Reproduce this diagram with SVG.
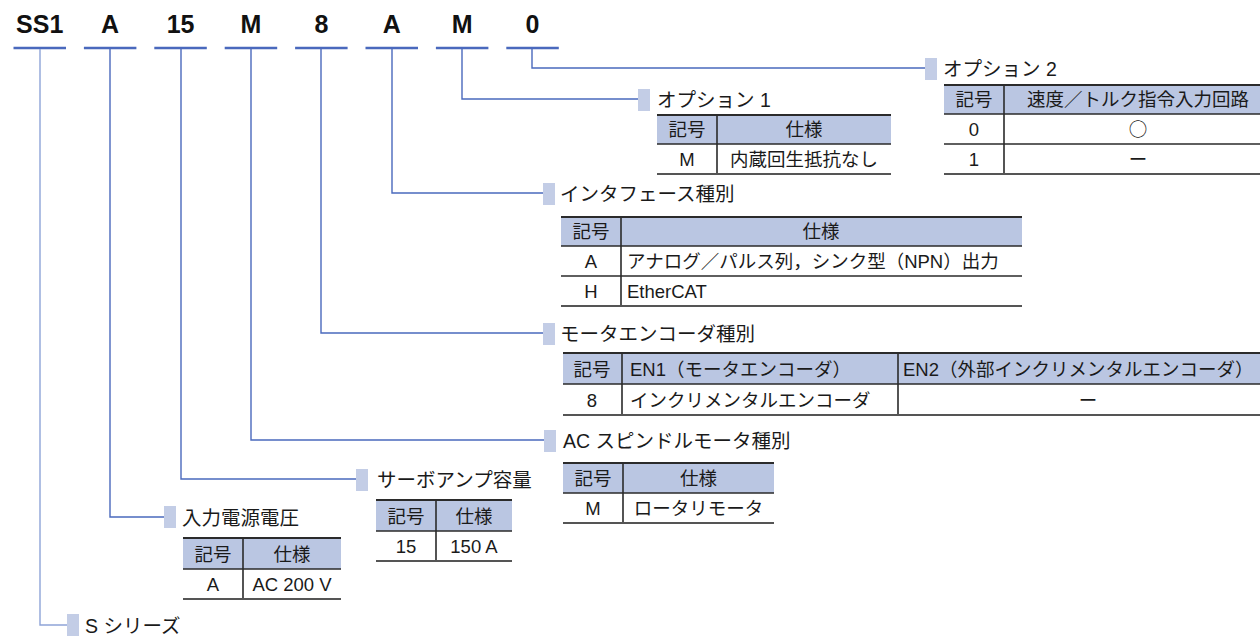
<svg xmlns="http://www.w3.org/2000/svg" width="1260" height="636" viewBox="0 0 1260 636">
<style>
  .code{font-family:"Liberation Sans",Arial,sans-serif;font-weight:bold;font-size:25px;fill:#111;text-anchor:middle}
  .ul{stroke:#4a69bd;stroke-width:2.5;fill:none}
  .conn{stroke:#4a69bd;stroke-width:1.4;fill:none}
  .conn-l{stroke:#8ea4d8;stroke-width:1.4;fill:none}
  .mk{fill:#c3cde6}
  .title{font-family:"Liberation Sans","Noto Sans CJK JP",sans-serif;font-size:19.5px;fill:#1a1a1a}
  .t{font-family:"Liberation Sans","Noto Sans CJK JP",sans-serif;font-size:18.5px;fill:#1a1a1a}
  .tc{text-anchor:middle}
  .cj{font-family:"Noto Sans CJK JP",sans-serif}
  .hd{fill:#bac6e2}
  .ln{stroke:#2b2b2b;stroke-width:1.6;fill:none}
  .lt{stroke:#2b2b2b;stroke-width:2;fill:none}
  .lb{stroke:#555;stroke-width:1.8;fill:none}
</style>

<g id="code">
  <text class="code" x="39.75" y="33">SS1</text>
  <text class="code" x="110.15" y="33">A</text>
  <text class="code" x="180.55" y="33">15</text>
  <text class="code" x="250.95" y="33">M</text>
  <text class="code" x="321.35" y="33">8</text>
  <text class="code" x="391.75" y="33">A</text>
  <text class="code" x="462.15" y="33">M</text>
  <text class="code" x="532.55" y="33">0</text>
  <path class="ul" d="M13.5 48h52.5M83.9 48h52.5M154.3 48h52.5M224.7 48h52.5M295.1 48h52.5M365.5 48h52.5M435.9 48h52.5M506.3 48h52.5"/>
</g>

<g id="connectors">
  <path class="conn-l" d="M40 49V625H67"/>
  <path class="conn" d="M110 49V517H164"/>
  <path class="conn" d="M181 49V479H356"/>
  <path class="conn" d="M251 49V440H544"/>
  <path class="conn" d="M321 49V333H543"/>
  <path class="conn" d="M392 49V193H543"/>
  <path class="conn" d="M462 49V99H638"/>
  <path class="conn" d="M532 49V68H925"/>
</g>

<g id="option2">
  <rect class="mk" x="925" y="58" width="12" height="22"/>
  <text class="title" x="943" y="76">オプション 2</text>
  <rect class="hd" x="944" y="85" width="330" height="29"/>
  <path class="lt" d="M944 85H1274"/>
  <path class="ln" d="M944 114H1274M944 144H1274M1004 85V174"/>
  <path class="lb" d="M944 174H1274"/>
  <text class="t tc" x="974" y="106">記号</text>
  <text class="t tc" x="1138" y="106">速度／トルク指令入力回路</text>
  <text class="t tc" x="974" y="136">0</text>
  <text class="t tc cj" x="1138" y="136">○</text>
  <text class="t tc" x="974" y="166">1</text>
  <text class="t tc" x="1138" y="166">ー</text>
</g>

<g id="option1">
  <rect class="mk" x="638" y="89" width="12" height="22"/>
  <text class="title" x="657" y="107">オプション 1</text>
  <rect class="hd" x="657" y="115" width="234" height="29"/>
  <path class="lt" d="M657 115H891"/>
  <path class="ln" d="M657 144H891M717 115V174"/>
  <path class="lb" d="M657 174H891"/>
  <text class="t tc" x="687" y="136">記号</text>
  <text class="t tc" x="804" y="136">仕様</text>
  <text class="t tc" x="687" y="166">M</text>
  <text class="t tc" x="804" y="166">内蔵回生抵抗なし</text>
</g>

<g id="interface">
  <rect class="mk" x="543" y="183" width="12" height="22"/>
  <text class="title" x="560" y="201">インタフェース種別</text>
  <rect class="hd" x="561" y="217" width="461" height="29"/>
  <path class="lt" d="M561 217H1022"/>
  <path class="ln" d="M561 246H1022M561 276H1022M621 217V306"/>
  <path class="lb" d="M561 306H1022"/>
  <text class="t tc" x="591" y="238">記号</text>
  <text class="t tc" x="821" y="238">仕様</text>
  <text class="t tc" x="591" y="268">A</text>
  <text class="t" x="627" y="268">アナログ／パルス列，シンク型（NPN）出力</text>
  <text class="t tc" x="591" y="298">H</text>
  <text class="t" x="627" y="298">EtherCAT</text>
</g>

<g id="encoder">
  <rect class="mk" x="543" y="323" width="12" height="22"/>
  <text class="title" x="560" y="341">モータエンコーダ種別</text>
  <rect class="hd" x="563" y="353" width="711" height="31"/>
  <path class="lt" d="M563 353H1274"/>
  <path class="ln" d="M563 384H1274M622 353V415M898 353V415"/>
  <path class="lb" d="M563 415H1274"/>
  <text class="t tc" x="592" y="376">記号</text>
  <text class="t" x="630" y="376">EN1（モータエンコーダ）</text>
  <text class="t" x="903" y="376">EN2（外部インクリメンタルエンコーダ）</text>
  <text class="t tc" x="592" y="407">8</text>
  <text class="t" x="630" y="407">インクリメンタルエンコーダ</text>
  <text class="t tc" x="1088" y="407">ー</text>
</g>

<g id="spindle">
  <rect class="mk" x="544" y="430" width="12" height="22"/>
  <text class="title" x="563" y="448">AC スピンドルモータ種別</text>
  <rect class="hd" x="563" y="463" width="211" height="30"/>
  <path class="lt" d="M563 463H774"/>
  <path class="ln" d="M563 493H774M623 463V523"/>
  <path class="lb" d="M563 523H774"/>
  <text class="t tc" x="593" y="485">記号</text>
  <text class="t tc" x="698.5" y="485">仕様</text>
  <text class="t tc" x="593" y="515">M</text>
  <text class="t tc" x="698.5" y="515">ロータリモータ</text>
</g>

<g id="capacity">
  <rect class="mk" x="356" y="469" width="12" height="22"/>
  <text class="title" x="377" y="487">サーボアンプ容量</text>
  <rect class="hd" x="376" y="500" width="136" height="31"/>
  <path class="lt" d="M376 500H512"/>
  <path class="ln" d="M376 531H512M436 500V561"/>
  <path class="lb" d="M376 561H512"/>
  <text class="t tc" x="406" y="523">記号</text>
  <text class="t tc" x="474" y="523">仕様</text>
  <text class="t tc" x="406" y="553">15</text>
  <text class="t tc" x="474" y="553">150 A</text>
</g>

<g id="voltage">
  <rect class="mk" x="164" y="506" width="12" height="22"/>
  <text class="title" x="182" y="525">入力電源電圧</text>
  <rect class="hd" x="183" y="538" width="158" height="31"/>
  <path class="lt" d="M183 538H341"/>
  <path class="ln" d="M183 569H341M243 538V599"/>
  <path class="lb" d="M183 599H341"/>
  <text class="t tc" x="213" y="561">記号</text>
  <text class="t tc" x="292" y="561">仕様</text>
  <text class="t tc" x="213" y="591">A</text>
  <text class="t tc" x="292" y="591">AC 200 V</text>
</g>

<g id="series">
  <rect class="mk" x="67" y="614" width="12" height="22"/>
  <text class="title" x="85" y="633">S シリーズ</text>
</g>
</svg>
